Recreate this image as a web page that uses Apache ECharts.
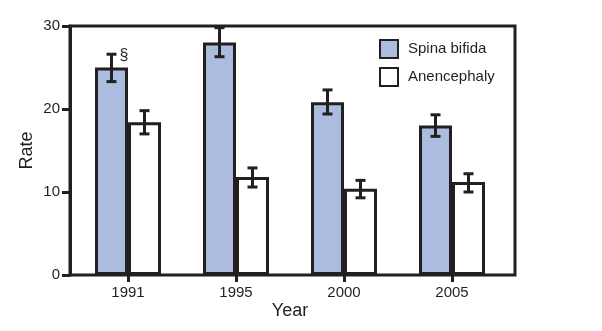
<!DOCTYPE html>
<html>
<head>
<meta charset="utf-8">
<script src="https://cdn.jsdelivr.net/npm/echarts@6/dist/echarts.min.js"></script>
<style>
  html, body { margin: 0; padding: 0; background: #fff; }
  #chart { width: 602px; height: 331px; }
</style>
</head>
<body>
<div id="chart"></div>
<script>
// Neural tube defect rates by year, with confidence intervals
const years = ['1991', '1995', '2000', '2005'];
const spinaBifida = [25.0, 28.0, 20.8, 18.0];
const spinaLow = [23.3, 26.3, 19.4, 16.7];
const spinaHigh = [26.6, 29.8, 22.3, 19.3];
const anencephaly = [18.4, 11.8, 10.4, 11.2];
const anenLow = [17.0, 10.6, 9.3, 10.0];
const anenHigh = [19.8, 12.9, 11.4, 12.2];
const spinaNotes = ['§', '', '', ''];
const yTicks = [0, 10, 20, 30];

const INK = '#231f20';
const BLUE = '#abbcde';
const BAR_W = 33;
const FONT = 'Liberation Sans, Arial, Helvetica, sans-serif';

// Error bar drawn at a bar's centre; side = -1 (left bar) or +1 (right bar)
function errorBars(low, high, side, notes) {
  return {
    type: 'custom',
    xAxisIndex: 1,
    yAxisIndex: 1,
    z: 10,
    silent: true,
    data: years.map((y, i) => [i, low[i], high[i]]),
    renderItem: function (params, api) {
      const i = api.value(0);
      const pLow = api.coord([i, api.value(1)]);
      const pHigh = api.coord([i, api.value(2)]);
      const x = pLow[0] + side * BAR_W / 2;
      const cap = 5;
      const style = { stroke: INK, lineWidth: 3 };
      const children = [
        { type: 'line', shape: { x1: x, y1: pLow[1], x2: x, y2: pHigh[1] }, style: style },
        { type: 'line', shape: { x1: x - cap, y1: pLow[1], x2: x + cap, y2: pLow[1] }, style: style },
        { type: 'line', shape: { x1: x - cap, y1: pHigh[1], x2: x + cap, y2: pHigh[1] }, style: style }
      ];
      if (notes && notes[i]) {
        children.push({
          type: 'text',
          style: {
            text: notes[i], x: x + 8, y: pHigh[1] + 1,
            fill: INK, font: '16px ' + FONT,
            textAlign: 'left', textVerticalAlign: 'middle'
          }
        });
      }
      return { type: 'group', children: children };
    }
  };
}

const chart = echarts.init(document.getElementById('chart'), null, { renderer: 'canvas' });

chart.setOption({
  animation: false,
  backgroundColor: '#fff',
  textStyle: { fontFamily: FONT, color: INK },
  grid: [
    // frame with the rate scale
    { left: 70, right: 87, top: 26, bottom: 56, show: true, borderColor: INK, borderWidth: 3, backgroundColor: 'transparent' },
    // plotting area for the year groups
    { left: 74, right: 96, top: 26, bottom: 56 }
  ],
  legend: {
    left: 374, top: 34, orient: 'vertical',
    itemWidth: 18, itemHeight: 18, itemGap: 8,
    textStyle: { fontSize: 15, color: INK, fontFamily: FONT, padding: [0, 0, 0, 5] },
    data: [
      { name: 'Spina bifida', icon: 'rect', itemStyle: { color: BLUE, borderColor: INK, borderWidth: 2 } },
      { name: 'Anencephaly', icon: 'rect', itemStyle: { color: '#fff', borderColor: INK, borderWidth: 2 } }
    ]
  },
  xAxis: [
    { gridIndex: 0, type: 'category', data: years, show: false },
    {
      gridIndex: 1, type: 'category', data: years,
      name: 'Year', nameLocation: 'middle', nameGap: 27, nameMoveOverlap: false,
      nameTextStyle: { fontSize: 18, color: INK, fontFamily: FONT },
      axisLine: { show: false },
      axisTick: { show: true, alignWithLabel: true, length: 7, lineStyle: { color: INK, width: 3 } },
      axisLabel: { fontSize: 15, color: INK, margin: 10, fontFamily: FONT }
    }
  ],
  yAxis: [
    {
      gridIndex: 0, type: 'value', min: 0, max: 30, interval: 10,
      name: 'Rate', nameLocation: 'middle', nameGap: 34, nameMoveOverlap: false,
      nameTextStyle: { fontSize: 18, color: INK, fontFamily: FONT },
      axisLine: { show: true, lineStyle: { color: INK, width: 3 } },
      axisTick: { show: true, length: 8, lineStyle: { color: INK, width: 3 } },
      axisLabel: {
        fontSize: 15, color: INK, margin: 10, fontFamily: FONT,
        formatter: v => (yTicks.indexOf(v) >= 0 ? String(v) : '')
      },
      splitLine: { show: false }
    },
    { gridIndex: 1, type: 'value', min: 0, max: 30, interval: 10, show: false, splitLine: { show: false } }
  ],
  series: [
    {
      name: 'Spina bifida', type: 'bar', xAxisIndex: 1, yAxisIndex: 1,
      data: spinaBifida, barWidth: BAR_W, barGap: '0%',
      itemStyle: { color: BLUE, borderColor: INK, borderWidth: 3 }
    },
    {
      name: 'Anencephaly', type: 'bar', xAxisIndex: 1, yAxisIndex: 1,
      data: anencephaly, barWidth: BAR_W, barGap: '0%',
      itemStyle: { color: '#fff', borderColor: INK, borderWidth: 3 }
    },
    errorBars(spinaLow, spinaHigh, -1, spinaNotes),
    errorBars(anenLow, anenHigh, 1, null)
  ]
});
</script>
</body>
</html>
